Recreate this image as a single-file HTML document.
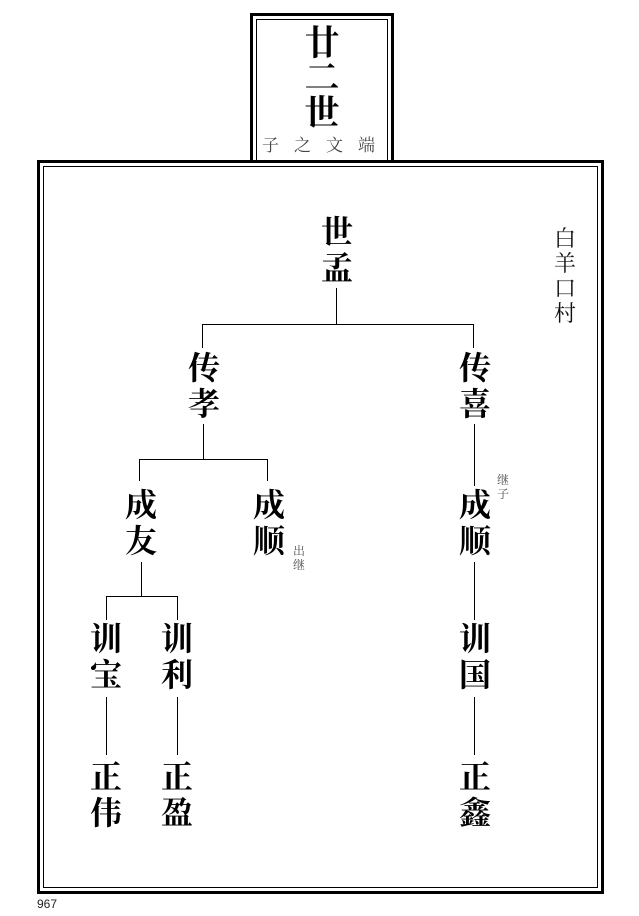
<!DOCTYPE html>
<html><head><meta charset="utf-8"><style>
body{margin:0;width:639px;height:916px;background:#fff;position:relative;overflow:hidden;font-family:"Liberation Serif","Noto Serif CJK SC",serif}
.b{position:absolute;box-sizing:border-box}
.n{position:absolute;font-size:32px;font-weight:bold;line-height:36px;width:40px;text-align:center;color:#000}
.s{position:absolute;font-size:12px;line-height:14px;width:14px;text-align:center;color:#555}
.l{position:absolute;background:#000}
</style></head><body>
<div class="b" style="left:250px;top:13px;width:144px;height:150px;border:3px solid #000;border-bottom:none"></div>
<div class="b" style="left:256px;top:19px;width:132px;height:144px;border:1px solid #000;border-bottom:none"></div>
<div class="n" style="left:302px;top:26px;font-size:35px;line-height:35px">廿<br>二<br>世</div>
<div style="position:absolute;left:262px;top:136px;font-size:17px;line-height:20px;color:#444;letter-spacing:15px;white-space:nowrap">子之文端</div>
<div class="b" style="left:37px;top:160px;width:567px;height:734px;border:3px solid #000"></div>
<div class="b" style="left:43px;top:166px;width:555px;height:722px;border:1px solid #000"></div>
<div class="n" style="left:317px;top:214px">世<br>孟</div>
<div class="l" style="left:336px;top:288px;width:1px;height:37px"></div>
<div class="l" style="left:202px;top:324px;width:272px;height:1px"></div>
<div class="l" style="left:202px;top:324px;width:1px;height:24px"></div>
<div class="l" style="left:473px;top:324px;width:1px;height:24px"></div>
<div class="n" style="left:184px;top:350px">传<br>孝</div>
<div class="n" style="left:455px;top:350px">传<br>喜</div>
<div class="l" style="left:203px;top:424px;width:1px;height:36px"></div>
<div class="l" style="left:139px;top:459px;width:128px;height:1px"></div>
<div class="l" style="left:139px;top:459px;width:1px;height:22px"></div>
<div class="l" style="left:267px;top:459px;width:1px;height:22px"></div>
<div class="l" style="left:474px;top:424px;width:1px;height:62px"></div>
<div class="s" style="left:496px;top:473px">继<br>子</div>
<div class="n" style="left:121px;top:487px">成<br>友</div>
<div class="n" style="left:249px;top:487px">成<br>顺</div>
<div class="s" style="left:292px;top:544px">出<br>继</div>
<div class="n" style="left:455px;top:487px">成<br>顺</div>
<div class="l" style="left:141px;top:562px;width:1px;height:35px"></div>
<div class="l" style="left:106px;top:596px;width:72px;height:1px"></div>
<div class="l" style="left:106px;top:596px;width:1px;height:24px"></div>
<div class="l" style="left:177px;top:596px;width:1px;height:24px"></div>
<div class="l" style="left:474px;top:562px;width:1px;height:58px"></div>
<div class="n" style="left:86px;top:621px">训<br>宝</div>
<div class="n" style="left:157px;top:621px">训<br>利</div>
<div class="n" style="left:455px;top:621px">训<br>国</div>
<div class="l" style="left:106px;top:697px;width:1px;height:58px"></div>
<div class="l" style="left:177px;top:697px;width:1px;height:58px"></div>
<div class="l" style="left:474px;top:697px;width:1px;height:58px"></div>
<div class="n" style="left:86px;top:759px">正<br>伟</div>
<div class="n" style="left:157px;top:759px">正<br>盈</div>
<div class="n" style="left:455px;top:759px">正<br>鑫</div>
<div style="position:absolute;left:553px;top:226px;font-size:22px;line-height:25px;width:24px;text-align:center;color:#111">白<br>羊<br>口<br>村</div>
<div style="position:absolute;left:37px;top:897px;font-family:'Liberation Sans',sans-serif;font-size:12px;color:#222">967</div>
</body></html>
